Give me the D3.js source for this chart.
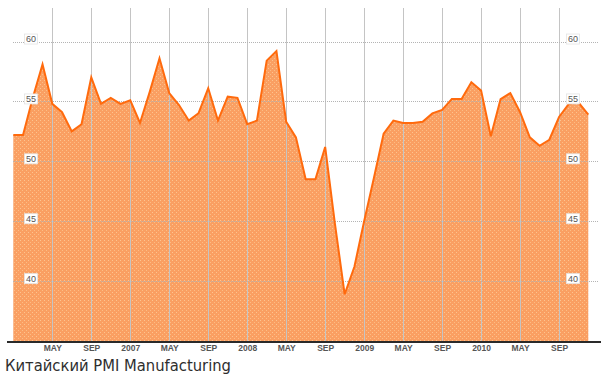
<!DOCTYPE html>
<html><head><meta charset="utf-8">
<script src="https://cdn.jsdelivr.net/npm/d3@7"></script>
<style>html,body{margin:0;padding:0;background:#fff;}svg{display:block;}</style>
</head><body>
<script>
// Monthly values, Jan 2006 .. Dec 2010
const months = d3.range(60);
const pmi = [
  52.2, 52.2, 55.3, 58.1, 54.8, 54.1, 52.5, 53.1, 57.0, 54.8, 55.3, 54.8,
  55.1, 53.2, 55.8, 58.6, 55.7, 54.7, 53.4, 54.0, 56.1, 53.4, 55.4, 55.3,
  53.1, 53.4, 58.4, 59.2, 53.3, 52.0, 48.5, 48.5, 51.2, 44.8, 38.9, 41.2,
  45.0, 48.6, 52.3, 53.4, 53.2, 53.2, 53.3, 54.0, 54.3, 55.2, 55.2, 56.6,
  55.9, 52.1, 55.2, 55.7, 54.1, 52.0, 51.3, 51.8, 53.7, 54.8, 54.9, 53.9
];
const xTickIdx = [4, 8, 12, 16, 20, 24, 28, 32, 36, 40, 44, 48, 52, 56];
const xTickLabels = ["MAY","SEP","2007","MAY","SEP","2008","MAY","SEP","2009","MAY","SEP","2010","MAY","SEP"];
const yTicks = [40, 45, 50, 55, 60];
const title = "Китайский PMI Manufacturing";

const W = 607, H = 377;
const svg = d3.select("body").append("svg").attr("width", W).attr("height", H);

// speckled fill texture
const defs = svg.append("defs");
const pat = defs.append("pattern").attr("id", "speck").attr("patternUnits", "userSpaceOnUse")
  .attr("width", 4).attr("height", 4);
pat.append("rect").attr("width", 4).attr("height", 4).attr("fill", "#fa9f62");
pat.append("rect").attr("x", 0).attr("y", 0).attr("width", 1).attr("height", 1).attr("fill", "#fdc490");
pat.append("rect").attr("x", 2).attr("y", 2).attr("width", 1).attr("height", 1).attr("fill", "#fdbd84");

const x = d3.scaleLinear().domain([0, 59]).range([13.3, 588.3]);
const y = d3.scaleLinear().domain([35, 62.8]).range([341, 8]);

const data = months.map((m, i) => ({m, v: pmi[i]}));

// area
svg.append("path").datum(data)
  .attr("d", d3.area().x(d => x(d.m)).y0(y(35)).y1(d => y(d.v)))
  .attr("fill", "url(#speck)");

// vertical grid
svg.append("g").selectAll("line").data(xTickIdx).join("line")
  .attr("x1", d => Math.round(x(d)) + 0.5).attr("x2", d => Math.round(x(d)) + 0.5)
  .attr("y1", 8).attr("y2", 341)
  .attr("stroke", "#c4c4c4").attr("stroke-width", 1);

// horizontal grid
svg.append("g").selectAll("line").data(yTicks).join("line")
  .attr("x1", 13).attr("x2", 598)
  .attr("y1", d => Math.round(y(d)) + 0.5).attr("y2", d => Math.round(y(d)) + 0.5)
  .attr("stroke", "#b4b4b4").attr("stroke-width", 1).attr("stroke-dasharray", "1,1");

// line
svg.append("path").datum(data)
  .attr("d", d3.line().x(d => x(d.m)).y(d => y(d.v)))
  .attr("fill", "none").attr("stroke", "#ff6a0d").attr("stroke-width", 2)
  .attr("stroke-linejoin", "miter");

// y labels (left and right)
[31, 573].forEach(cx => {
  const g = svg.append("g").selectAll("g").data(yTicks).join("g")
    .attr("transform", d => `translate(${cx},${y(d) - 2.5})`);
  g.append("rect").attr("x", -6.5).attr("y", -5).attr("width", 13).attr("height", 10)
    .attr("fill", "#fff").attr("stroke", "#e4e4e4").attr("stroke-width", 0.8);
  g.append("text").text(d => d).attr("text-anchor", "middle").attr("dy", "0.35em")
    .attr("font-family", "Liberation Sans, Arial, sans-serif").attr("font-size", 9)
    .attr("fill", "#555");
});

// bottom axis
const xAxis = d3.axisBottom(x).tickValues(xTickIdx)
  .tickFormat((d, i) => xTickLabels[i]).tickSize(0).tickPadding(3);
const ax = svg.append("g").attr("transform", "translate(0,342)").call(xAxis);
ax.select(".domain").remove();
ax.selectAll("text").attr("font-family", "Liberation Sans, Arial, sans-serif")
  .attr("font-size", 8.5).attr("font-weight", "bold").attr("fill", "#555");
svg.append("line").attr("x1", 7).attr("x2", 601).attr("y1", 342).attr("y2", 342)
  .attr("stroke", "#2a2a2a").attr("stroke-width", 2);

// title
svg.append("text").attr("x", 5).attr("y", 370.5).text(title)
  .attr("font-family", "DejaVu Sans, Verdana, sans-serif").attr("font-size", 15.5)
  .attr("textLength", 226).attr("lengthAdjust", "spacingAndGlyphs")
  .attr("fill", "#2e2e2e");
</script>
</body></html>
